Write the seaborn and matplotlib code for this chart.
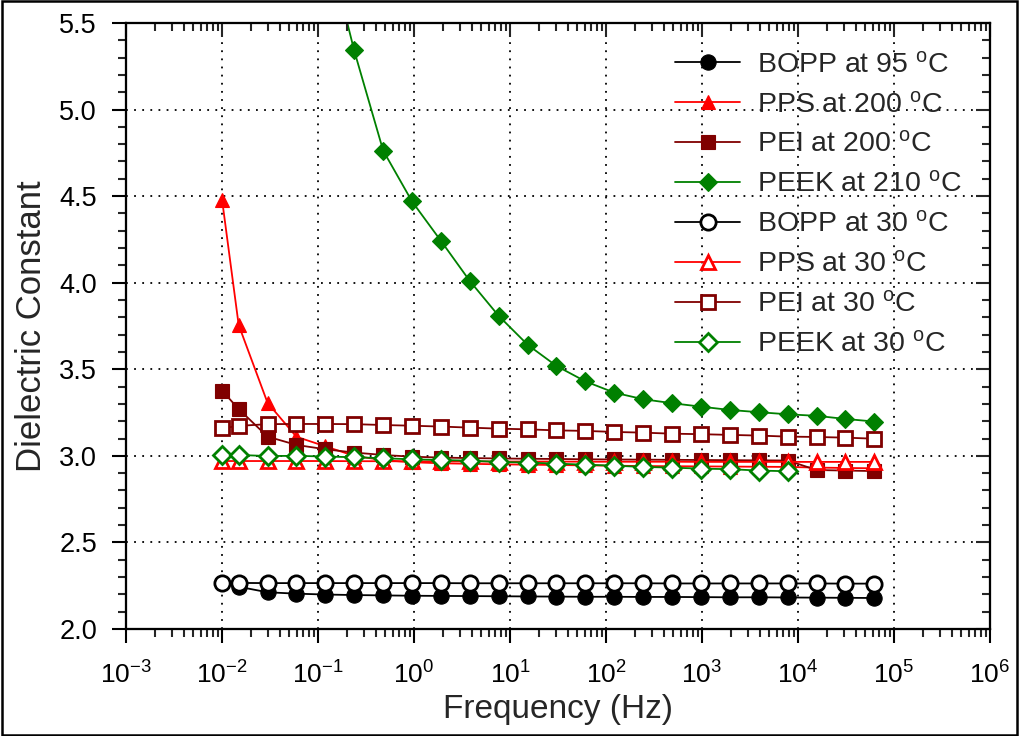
import numpy as np
import pandas as pd
import matplotlib
matplotlib.use("Agg")
import matplotlib.pyplot as plt
import seaborn as sns
from matplotlib.ticker import MultipleLocator, LogLocator, LogFormatterSciNotation, NullFormatter, FormatStrFormatter
from matplotlib.patches import Rectangle

# ---------------- data ----------------
freq = [0.01, 0.0149, 0.0298, 0.0596, 0.119, 0.238, 0.477, 0.954, 1.91, 3.81,
        7.63, 15.3, 30.5, 61.0, 122, 244, 488, 977, 1953, 3906, 7813,
        15625, 31250, 62500]

bopp_95 = [2.244, 2.212, 2.204, 2.199, 2.196, 2.194, 2.192, 2.191, 2.190,
           2.189, 2.188, 2.187, 2.186, 2.186, 2.185, 2.185, 2.184, 2.183,
           2.183, 2.182, 2.181, 2.180, 2.179]            # from 0.0149 Hz
pps_200 = [4.48, 3.756, 3.306, 3.11, 3.055, 3.0, 2.975, 2.963, 2.957, 2.954,
           2.951, 2.949, 2.947, 2.945, 2.943, 2.941, 2.940, 2.939, 2.938,
           2.937, 2.936, 2.932, 2.930, 2.928]
pei_200 = [3.377, 3.27, 3.111, 3.063, 3.038, 3.019, 3.005, 2.995, 2.990,
           2.987, 2.985, 2.983, 2.982, 2.980, 2.979, 2.978, 2.977, 2.976,
           2.975, 2.974, 2.973, 2.918, 2.915, 2.912]
peek_210 = [6.01, 5.341, 4.763, 4.469, 4.241, 4.01, 3.808, 3.641, 3.519,
            3.43, 3.365, 3.327, 3.304, 3.284, 3.265, 3.252, 3.24, 3.231,
            3.213, 3.198]                                 # from 0.119 Hz
bopp_30 = [2.265, 2.266, 2.265, 2.265, 2.265, 2.265, 2.265, 2.265, 2.265,
           2.264, 2.264, 2.264, 2.264, 2.264, 2.264, 2.264, 2.263, 2.263,
           2.263, 2.263, 2.263, 2.263, 2.262, 2.262]
pps_30 = [2.970, 2.970, 2.970, 2.970, 2.970, 2.969, 2.969, 2.968, 2.968,
          2.968, 2.967, 2.967, 2.967, 2.966, 2.966, 2.966, 2.966, 2.965,
          2.965, 2.965, 2.965, 2.965, 2.965, 2.965]
pei_30 = [3.159, 3.173, 3.183, 3.184, 3.184, 3.183, 3.178, 3.174, 3.169,
          3.163, 3.157, 3.153, 3.147, 3.144, 3.138, 3.134, 3.128, 3.125,
          3.121, 3.117, 3.111, 3.109, 3.105, 3.099]
peek_30 = [3.005, 3.005, 2.999, 3.000, 2.996, 2.992, 2.986, 2.980, 2.976,
           2.972, 2.965, 2.961, 2.955, 2.949, 2.943, 2.936, 2.932, 2.926,
           2.923, 2.915, 2.911]                           # up to 7813 Hz

labels = ["BOPP at 95 $^{\\mathrm{o}}$C", "PPS at 200 $^{\\mathrm{o}}$C",
          "PEI at 200 $^{\\mathrm{o}}$C", "PEEK at 210 $^{\\mathrm{o}}$C",
          "BOPP at 30 $^{\\mathrm{o}}$C", "PPS at 30 $^{\\mathrm{o}}$C",
          "PEI at 30 $^{\\mathrm{o}}$C", "PEEK at 30 $^{\\mathrm{o}}$C"]

x_ticks = [1e-3, 1e-2, 1e-1, 1e0, 1e1, 1e2, 1e3, 1e4, 1e5, 1e6]
y_ticks = [2.0, 2.5, 3.0, 3.5, 4.0, 4.5, 5.0, 5.5]

# ---------------- style ----------------
sns.set_style("white")
plt.rcParams["font.family"] = ["Liberation Sans", "DejaVu Sans"]
plt.rcParams["mathtext.fontset"] = "custom"
plt.rcParams["mathtext.rm"] = "Liberation Sans"
plt.rcParams["mathtext.it"] = "Liberation Sans:italic"
plt.rcParams["mathtext.bf"] = "Liberation Sans:bold"
plt.rcParams["mathtext.default"] = "regular"

fig = plt.figure(figsize=(10.19, 7.36), dpi=100)
ax = fig.add_axes([0.1237, 0.1454, 0.8478, 0.8234])

series = [
    (freq[1:], bopp_95, "black", "o", True),
    (freq, pps_200, "#FF0000", "^", True),
    (freq, pei_200, "#800000", "s", True),
    (freq[4:], peek_210, "#008000", "D", True),
    (freq, bopp_30, "black", "o", False),
    (freq, pps_30, "#FF0000", "^", False),
    (freq, pei_30, "#800000", "s", False),
    (freq[:21], peek_30, "#008000", "D", False),
]
msizes = {"o": 11.0, "^": 10.5, "s": 10.0, "D": 9.5}

for (xs, ys, col, mk, filled), lab in zip(series, labels):
    df = pd.DataFrame({"f": xs, "eps": ys})
    sns.lineplot(data=df, x="f", y="eps", ax=ax, color=col, marker=mk,
                 markersize=msizes[mk], markerfacecolor=col if filled else "white",
                 markeredgecolor=col, markeredgewidth=2.0 if not filled else 0.8,
                 linewidth=1.3, label=lab, errorbar=None, sort=False)

ax.set_xscale("log")
ax.set_xlim(1e-3, 1e6)
ax.set_ylim(2.0, 5.5)
ax.set_xticks(x_ticks)
ax.xaxis.set_major_formatter(LogFormatterSciNotation())
ax.xaxis.set_minor_locator(LogLocator(base=10, subs=np.arange(2, 10), numticks=20))
ax.xaxis.set_minor_formatter(NullFormatter())
ax.set_yticks(y_ticks)
ax.yaxis.set_major_formatter(FormatStrFormatter("%.1f"))
ax.yaxis.set_minor_locator(MultipleLocator(0.1))

ax.grid(True, which="major", color="black", linestyle=(0, (1, 3.5)), linewidth=1.3)
ax.set_axisbelow(True)

for s in ax.spines.values():
    s.set_linewidth(1.5)
    s.set_color("black")

ax.tick_params(axis="both", which="major", direction="out", length=10, width=1.5,
               colors="black", top=False, right=False)
ax.tick_params(axis="both", which="minor", direction="out", length=5.5, width=1.5,
               top=False, right=False)
ax.tick_params(axis="y", which="major", pad=11, labelsize=19.5)
ax.tick_params(axis="x", which="major", pad=13, labelsize=19)

# mirrored inward ticks on top and right
axt = ax.twiny()
axt.set_xscale("log")
axt.set_xlim(ax.get_xlim())
axt.set_xticks(x_ticks)
axt.xaxis.set_minor_locator(LogLocator(base=10, subs=np.arange(2, 10), numticks=20))
axt.xaxis.set_minor_formatter(NullFormatter())
axt.tick_params(axis="x", which="major", direction="in", length=10, width=1.5, labeltop=False)
axt.tick_params(axis="x", which="minor", direction="in", length=5.5, width=1.5)
axr = ax.twinx()
axr.set_ylim(ax.get_ylim())
axr.set_yticks(y_ticks)
axr.yaxis.set_minor_locator(MultipleLocator(0.1))
axr.tick_params(axis="y", which="major", direction="in", length=10, width=1.5, labelright=False)
axr.tick_params(axis="y", which="minor", direction="in", length=5.5, width=1.5)
for a in (axt, axr):
    for s in a.spines.values():
        s.set_linewidth(1.5)
        s.set_color("black")
    a.grid(False)

ax.set_xlabel("Frequency (Hz)", fontsize=24, labelpad=4)
ax.set_ylabel("Dielectric Constant", fontsize=25, labelpad=8)

leg = ax.legend(loc="upper left", bbox_to_anchor=(0.636, 0.952), frameon=False,
                fontsize=20.5, handlelength=2.25, handletextpad=0.6,
                labelspacing=0.49, borderaxespad=0, borderpad=0)

fig.patches.append(Rectangle((0.0015, 0.002), 0.997, 0.996, transform=fig.transFigure,
                             fill=False, edgecolor="black", linewidth=1.8))

fig.savefig("out.png", dpi=100)
